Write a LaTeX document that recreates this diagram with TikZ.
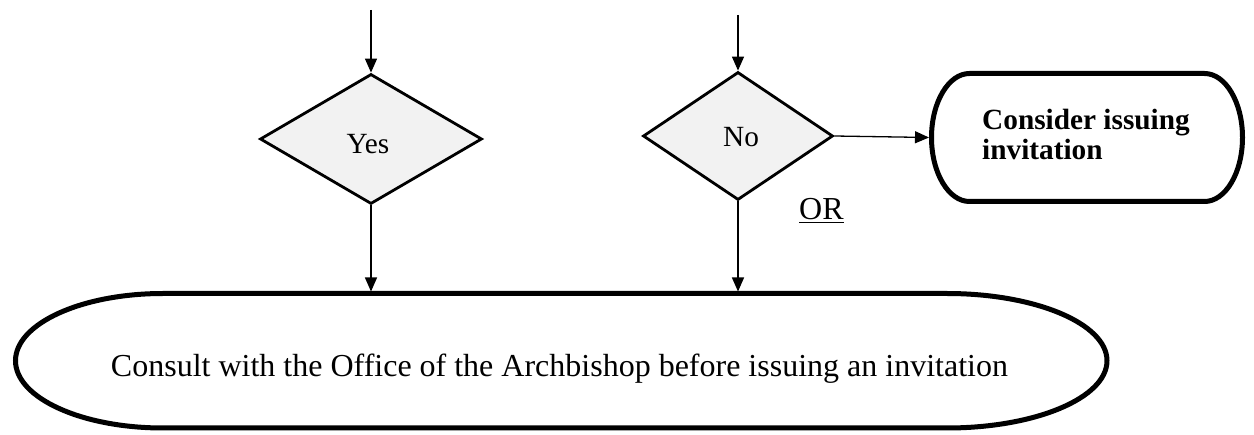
\documentclass[tikz,border=0pt]{standalone}
\usepackage{fontspec}
\setmainfont{Liberation Serif}
\usetikzlibrary{arrows.meta,shapes.geometric}
\definecolor{dfill}{HTML}{F2F2F2}
\begin{document}
\begin{tikzpicture}[x=1pt,y=-1pt,
  conn/.style={line width=1.3pt,-{Triangle[length=14pt,width=12pt]}},
  decision/.style={diamond,draw,line width=2.8pt,fill=dfill,inner sep=0pt},
  bigtxt/.style={font=\fontsize{32}{38}\selectfont,inner sep=0pt},
  smalltxt/.style={font=\fontsize{29.3}{30}\selectfont,inner sep=0pt},
  thickline/.style={line width=5pt},
  frame/.style={rectangle,draw=none,inner sep=0pt,outer sep=0pt}]
\useasboundingbox (0,0) rectangle (1254,435);
% decisions
\node[decision,minimum width=222pt,minimum height=130pt] (yes) at (371,139) {};
\node[smalltxt,anchor=base] (yeslbl) at (368,154) {Yes};
\node[decision,minimum width=190pt,minimum height=128pt] (no) at (738,136) {};
\node[smalltxt,anchor=base] (nolbl) at (741,147) {No};
% consider box
\node[frame,minimum width=316pt,minimum height=133pt] (consider) at (1087,137.5) {};
\draw[thickline] (969.5,73.5) -- (1204.5,73.5)
  arc[start angle=90,end angle=-90,x radius=38pt,y radius=64pt]
  -- (969.5,201.5)
  arc[start angle=270,end angle=90,x radius=38pt,y radius=64pt] -- cycle;
\node[smalltxt,font=\fontsize{29.3}{30}\selectfont\bfseries,anchor=base west] (cons1) at (982,130) {Consider issuing};
\node[smalltxt,font=\fontsize{29.3}{30}\selectfont\bfseries,anchor=base west] (cons2) at (982,160) {invitation};
% consult shape
\node[frame,minimum width=1097pt,minimum height=139pt] (consult) at (561,361) {};
\draw[thickline] (163,293.5) -- (947,293.5)
  arc[start angle=90,end angle=-90,x radius=160pt,y radius=67.25pt]
  -- (163,428)
  arc[start angle=270,end angle=90,x radius=147.5pt,y radius=67.25pt] -- cycle;
\node[bigtxt,anchor=base] (consulttxt) at (559.5,377) {Consult with the Office of the Archbishop before issuing an invitation};
% OR
\node[bigtxt,anchor=base west] (orlbl) at (799,220) {\underline{OR}};
% connectors
\coordinate (top1) at (371,10);
\coordinate (top2) at (738,15);
\draw[conn] (top1) -- (yes.north);
\draw[conn] (top2) -- (no.north);
\draw[conn] (yes.south) -- (yes.south |- consult.north);
\draw[conn] (no.south) -- (no.south |- consult.north);
\draw[conn] (no.east) -- (consider.west);
\end{tikzpicture}
\end{document}
